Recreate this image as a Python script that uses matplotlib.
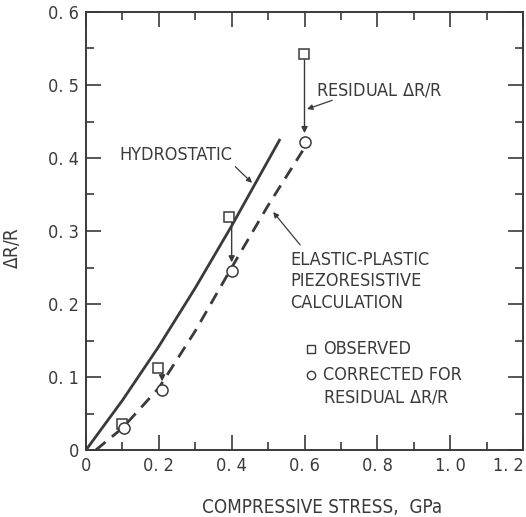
import matplotlib
matplotlib.use("Agg")
import matplotlib.pyplot as plt
from matplotlib.ticker import MultipleLocator, FixedFormatter, FixedLocator
import matplotlib.font_manager as fm
import matplotlib.transforms as mtransforms

# ---- data ----
hydro_x = [0.0, 0.1, 0.2, 0.3, 0.4, 0.533]
hydro_y = [0.0, 0.068, 0.142, 0.222, 0.307, 0.426]

calc_x = [0.027, 0.1, 0.2, 0.3, 0.4, 0.5, 0.595]
calc_y = [0.0, 0.03, 0.085, 0.163, 0.25, 0.335, 0.41]

obs_x = [0.1, 0.198, 0.393, 0.599]
obs_y = [0.036, 0.113, 0.319, 0.542]

corr_x = [0.104, 0.209, 0.40, 0.60]
corr_y = [0.030, 0.082, 0.245, 0.422]

xticks = [0, 0.2, 0.4, 0.6, 0.8, 1.0, 1.2]
xtick_labels = ["0", "0. 2", "0. 4", "0. 6", "0. 8", "1. 0", "1. 2"]
yticks = [0, 0.1, 0.2, 0.3, 0.4, 0.5, 0.6]
ytick_labels = ["0", "0. 1", "0. 2", "0. 3", "0. 4", "0. 5", "0. 6"]

fonts = fm.fontManager.ttflist
names = {f.name for f in fonts}
condensed = any(f.name == "DejaVu Sans" and f.stretch in ("condensed", 500, "semi-condensed")
                for f in fonts) or any(f.name == "DejaVu Sans" and "Condensed" in f.fname for f in fonts)
if "Liberation Sans Narrow" in names:
    plt.rcParams['font.family'] = ["Liberation Sans Narrow", "DejaVu Sans"]
    narrow = True
elif condensed:
    plt.rcParams['font.family'] = ["DejaVu Sans"]
    plt.rcParams['font.stretch'] = 'condensed'
    narrow = True
else:
    plt.rcParams['font.family'] = ["DejaVu Sans"]
    narrow = False

fs_txt = 13 if narrow else 11.5
fs_tick = 13 if narrow else 11.5
fs_lab = 13.5 if narrow else 12

ink = "#3a3a3a"

fig = plt.figure(figsize=(5.26, 5.17), dpi=100)
ax = fig.add_axes([86/526, 1 - 450/517, 437/526, 438/517])
ax.set_xlim(0, 1.2)
ax.set_ylim(0, 0.6)

for s in ax.spines.values():
    s.set_linewidth(1.4)
    s.set_color(ink)

ax.xaxis.set_major_locator(FixedLocator(xticks))
ax.xaxis.set_major_formatter(FixedFormatter(xtick_labels))
ax.yaxis.set_major_locator(FixedLocator(yticks))
ax.yaxis.set_major_formatter(FixedFormatter(ytick_labels))
ax.xaxis.set_minor_locator(MultipleLocator(0.1))
ax.yaxis.set_minor_locator(MultipleLocator(0.05))
ax.tick_params(which='both', direction='in', top=True, right=True, color=ink, width=1.2,
               labelsize=fs_tick, labelcolor=ink)
ax.tick_params(which='major', length=11)
ax.tick_params(which='minor', length=6)
ax.tick_params(axis='x', pad=5)
ax.tick_params(axis='y', pad=5)

ax.plot(hydro_x, hydro_y, color=ink, lw=2.0, solid_capstyle='butt')
ax.plot(calc_x, calc_y, color=ink, lw=2.0, dashes=(4.5, 3.0))

ax.plot(obs_x, obs_y, ls='none', marker='s', ms=7, mfc='white', mec=ink, mew=1.1, zorder=4)
ax.plot(corr_x, corr_y, ls='none', marker='o', ms=8, mfc='white', mec=ink, mew=1.1, zorder=5)

# residual arrows from observed to corrected
for i in range(1, len(obs_x)):
    ax.annotate("", xy=(corr_x[i], corr_y[i] + 0.012), xytext=(corr_x[i], obs_y[i] - 0.008),
                arrowprops=dict(arrowstyle='-|>', color=ink, lw=1.0, mutation_scale=9,
                                shrinkA=0, shrinkB=0), zorder=3)

tkw = dict(color=ink, fontsize=fs_txt)
ax.text(0.093, 0.404, "HYDROSTATIC", va='center', ha='left', **tkw)
ax.annotate("", xy=(0.456, 0.366), xytext=(0.41, 0.388),
            arrowprops=dict(arrowstyle='-|>', color=ink, lw=0.9, mutation_scale=8, shrinkA=0, shrinkB=0))

ax.text(0.632, 0.493, "RESIDUAL $\\mathit{\\Delta}$R/R", va='center', ha='left', **tkw)
ax.annotate("", xy=(0.607, 0.467), xytext=(0.676, 0.479),
            arrowprops=dict(arrowstyle='-|>', color=ink, lw=0.9, mutation_scale=8, shrinkA=0, shrinkB=0))

ax.text(0.56, 0.231, "ELASTIC-PLASTIC\nPIEZORESISTIVE\nCALCULATION", va='center', ha='left',
        linespacing=1.25, **tkw)
ax.annotate("", xy=(0.514, 0.326), xytext=(0.588, 0.281),
            arrowprops=dict(arrowstyle='-|>', color=ink, lw=0.9, mutation_scale=8, shrinkA=0, shrinkB=0))

ax.plot([0.618], [0.138], ls='none', marker='s', ms=6, mfc='white', mec=ink, mew=1.0)
ax.plot([0.618], [0.103], ls='none', marker='o', ms=6, mfc='white', mec=ink, mew=1.0)
ax.text(0.651, 0.138, "OBSERVED", va='center', ha='left', **tkw)
ax.text(0.651, 0.103, "CORRECTED FOR", va='center', ha='left', **tkw)
ax.text(0.651, 0.072, "RESIDUAL $\\mathit{\\Delta}$R/R", va='center', ha='left', **tkw)

ax.set_xlabel("COMPRESSIVE STRESS,  GPa", fontsize=fs_lab, color=ink)
ax.xaxis.set_label_coords(0.54, -0.11)
ax.set_ylabel("$\\mathit{\\Delta}$R/R", fontsize=fs_lab, color=ink)
ax.yaxis.set_label_coords(-0.147, 0.46)

# keep the last x tick label inside the figure
fig.canvas.draw()
last = ax.get_xticklabels()[-1]
last.set_horizontalalignment('right')
last.set_transform(last.get_transform() + mtransforms.ScaledTranslation(0.01, 0, fig.dpi_scale_trans))

fig.savefig("out.png", dpi=100)
